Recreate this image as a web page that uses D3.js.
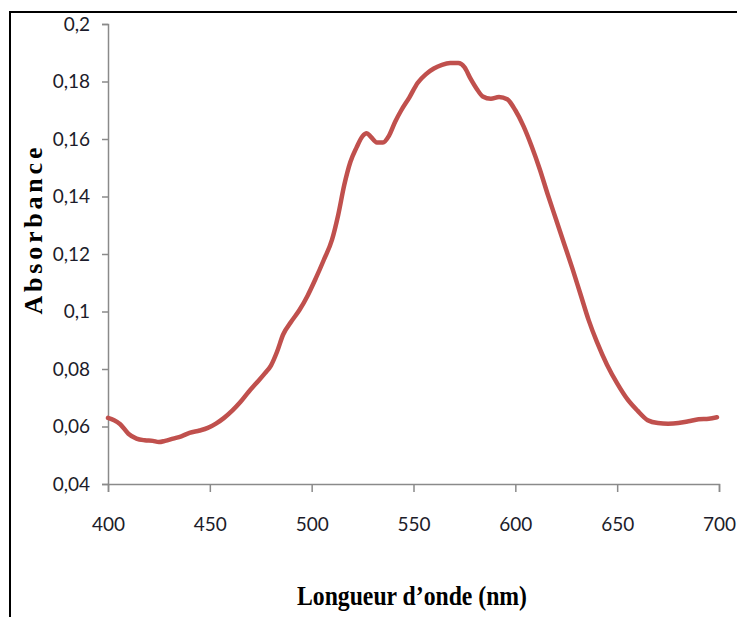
<!DOCTYPE html>
<html>
<head>
<meta charset="utf-8">
<script src="https://cdn.jsdelivr.net/npm/d3@7"></script>
<style>
  html, body { margin: 0; padding: 0; background: #fff; }
</style>
</head>
<body>
<div id="chart"></div>
<script>
// -----------------------------
// DATA
// -----------------------------
const wavelengths = [
  400, 403, 406, 410, 414, 418, 422, 425, 428, 432, 436, 440, 445, 449, 453,
  457, 461, 465, 469, 473, 477, 480, 483, 486, 490, 494, 498, 502, 506, 510,
  513, 516, 519, 522, 525, 527, 529, 532, 535, 538, 541, 544, 548, 552, 556,
  560, 564, 568, 572, 575, 578, 581, 584, 588, 592, 596, 600, 604, 608, 612,
  616, 620, 624, 628, 632, 636, 640, 645, 650, 655, 660, 665, 670, 675, 680,
  685, 690, 695, 699
];
const absorbance = [
  0.0630, 0.0622, 0.0608, 0.0575, 0.0558, 0.0552, 0.0550, 0.0546, 0.0550, 0.0558,
  0.0566, 0.0578, 0.0586, 0.0595, 0.0610, 0.0630, 0.0655, 0.0685, 0.0720, 0.0752,
  0.0785, 0.0812, 0.0860, 0.0920, 0.0965, 0.1005, 0.1055, 0.1115, 0.1180, 0.1250,
  0.1335, 0.1440, 0.1520, 0.1570, 0.1610, 0.1620, 0.1608, 0.1588, 0.1588, 0.1612,
  0.1660, 0.1700, 0.1745, 0.1795, 0.1825, 0.1845, 0.1858, 0.1864, 0.1864, 0.1850,
  0.1810, 0.1775, 0.1748, 0.1740, 0.1746, 0.1738, 0.1700, 0.1645, 0.1575, 0.1495,
  0.1405, 0.1320, 0.1235, 0.1150, 0.1060, 0.0970, 0.0895, 0.0815, 0.0750, 0.0695,
  0.0655, 0.0622, 0.0612, 0.0610, 0.0612, 0.0618, 0.0625, 0.0627, 0.0632
];
const xTicks = [400, 450, 500, 550, 600, 650, 700];
const yTicks = [0.04, 0.06, 0.08, 0.1, 0.12, 0.14, 0.16, 0.18, 0.2];
const xTitle = "Longueur d\u2019onde (nm)";
const yTitle = "Absorbance";

// -----------------------------
// DIMENSIONS
// -----------------------------
const width = 737;
const height = 617;
const margin = { top: 24, right: 18, bottom: 133, left: 108 };
const innerWidth = width - margin.left - margin.right;
const innerHeight = height - margin.top - margin.bottom;

const svg = d3.select("#chart")
  .append("svg")
  .attr("width", width)
  .attr("height", height);

// frame (only top + left edges show in the original)
svg.append("path")
  .attr("d", `M10,${height} V12 H${width}`)
  .attr("fill", "none")
  .attr("stroke", "#000")
  .attr("stroke-width", 2);

const g = svg.append("g")
  .attr("transform", `translate(${margin.left},${margin.top})`);

// -----------------------------
// SCALES
// -----------------------------
const x = d3.scaleLinear().domain([400, 700]).range([0, innerWidth]);
const y = d3.scaleLinear().domain([0.04, 0.2]).range([innerHeight, 0]);

const commaFmt = d => String(+d.toFixed(2)).replace(".", ",");

// -----------------------------
// AXES
// -----------------------------
const xAxis = g.append("g")
  .attr("transform", `translate(0,${innerHeight})`)
  .call(d3.axisBottom(x).tickValues(xTicks).tickSize(8).tickPadding(26).tickFormat(d3.format("d")));

const yAxis = g.append("g")
  .call(d3.axisLeft(y).tickValues(yTicks).tickSize(6).tickPadding(12).tickFormat(commaFmt));

[xAxis, yAxis].forEach(ax => {
  ax.select(".domain").attr("stroke", "#8a8a8a").attr("stroke-width", 1.5);
  ax.selectAll(".tick line").attr("stroke", "#8a8a8a").attr("stroke-width", 1.5);
  ax.selectAll(".tick text")
    .attr("fill", "#1c1c2a")
    .style("font-family", "Lato, 'Open Sans', sans-serif")
    .style("font-size", "19px");
});

// -----------------------------
// SPECTRUM LINE
// -----------------------------
const points = wavelengths.map((w, i) => ({ w, a: absorbance[i] }));

const lineGen = d3.line()
  .x(d => x(d.w))
  .y(d => y(d.a))
  .curve(d3.curveMonotoneX);

g.append("path")
  .datum(points)
  .attr("fill", "none")
  .attr("stroke", "#c0504d")
  .attr("stroke-width", 4.5)
  .attr("stroke-linejoin", "round")
  .attr("stroke-linecap", "round")
  .attr("d", lineGen);

// -----------------------------
// AXIS TITLES
// -----------------------------
svg.append("text")
  .attr("x", 412)
  .attr("y", 605)
  .attr("text-anchor", "middle")
  .attr("textLength", 230)
  .attr("lengthAdjust", "spacingAndGlyphs")
  .style("font-family", "'Liberation Serif', 'Times New Roman', serif")
  .style("font-weight", "bold")
  .style("font-size", "28px")
  .attr("fill", "#000")
  .text(xTitle);

svg.append("text")
  .attr("transform", "translate(42,231) rotate(-90)")
  .attr("text-anchor", "middle")
  .attr("textLength", 167)
  .attr("lengthAdjust", "spacing")
  .style("font-family", "'Liberation Serif', 'Times New Roman', serif")
  .style("font-weight", "bold")
  .style("font-size", "26px")
  .attr("fill", "#000")
  .text(yTitle);
</script>
</body>
</html>
